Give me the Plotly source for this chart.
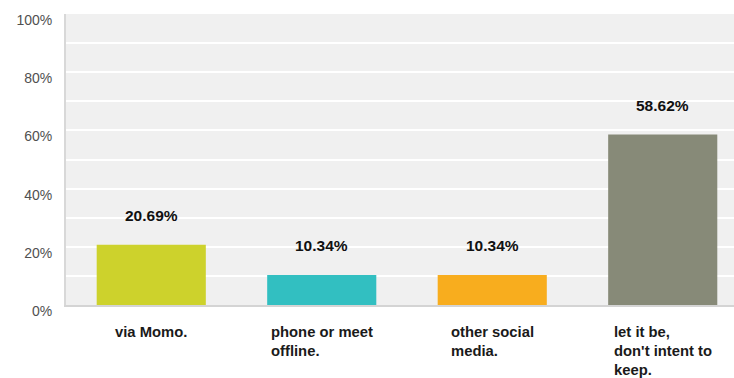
import plotly.graph_objects as go

categories = ["via Momo.", "phone or meet<br>offline.", "other social<br>media.", "let it be,<br>don't intent to<br>keep."]
values = [20.69, 10.34, 10.34, 58.62]
value_labels = ["20.69%", "10.34%", "10.34%", "58.62%"]
colors = ["#cdd22c", "#32bfc1", "#f8ad1e", "#878a78"]
tick_vals = [0, 20, 40, 60, 80, 100]
tick_text = ["0%", "20%", "40%", "60%", "80%", "100%"]

xs = list(range(len(categories)))

fig = go.Figure()
fig.add_trace(go.Bar(
    x=xs, y=values, width=0.64,
    marker=dict(color=colors, line=dict(width=0)),
    hoverinfo="skip",
))

annotations = []
for x, v, t in zip(xs, values, value_labels):
    annotations.append(dict(
        x=x, y=v, xref="x", yref="y", text="<b>%s</b>" % t, showarrow=False,
        yshift=29, font=dict(family="Liberation Sans, Arial", size=15.5, color="#111111"),
        xanchor="center", yanchor="middle",
    ))
for x, c in zip(xs, categories):
    annotations.append(dict(
        x=x, y=0, xref="x", yref="y", text="<b>%s</b>" % c, showarrow=False,
        yshift=-17, align="left", xanchor="center", yanchor="top",
        font=dict(family="Liberation Sans, Arial", size=14.8, color="#1a1a1a"),
    ))

fig.update_layout(
    width=734, height=378,
    margin=dict(l=66, r=0, t=14, b=73),
    paper_bgcolor="white", plot_bgcolor="#f0f0f0",
    showlegend=False,
    annotations=annotations,
)
fig.update_xaxes(
    range=[-0.5, 3.418], showticklabels=False, showgrid=False, zeroline=False,
    showline=True, linecolor="#d4d4d4", linewidth=2, ticks="",
    fixedrange=True,
)
fig.update_yaxes(
    range=[0, 100], tickvals=tick_vals, ticktext=tick_text,
    showgrid=True, gridcolor="#ffffff", gridwidth=2,
    minor=dict(dtick=10, tick0=0, showgrid=True, gridcolor="#ffffff", gridwidth=2),
    zeroline=False, showline=True, linecolor="#d8d8d8", linewidth=2,
    tickfont=dict(family="Liberation Sans, Arial", size=14, color="#505050"),
    ticklabelstandoff=9, ticklabelshift=6,
    fixedrange=True,
)

fig.write_html("out.html", config={"displayModeBar": False})
